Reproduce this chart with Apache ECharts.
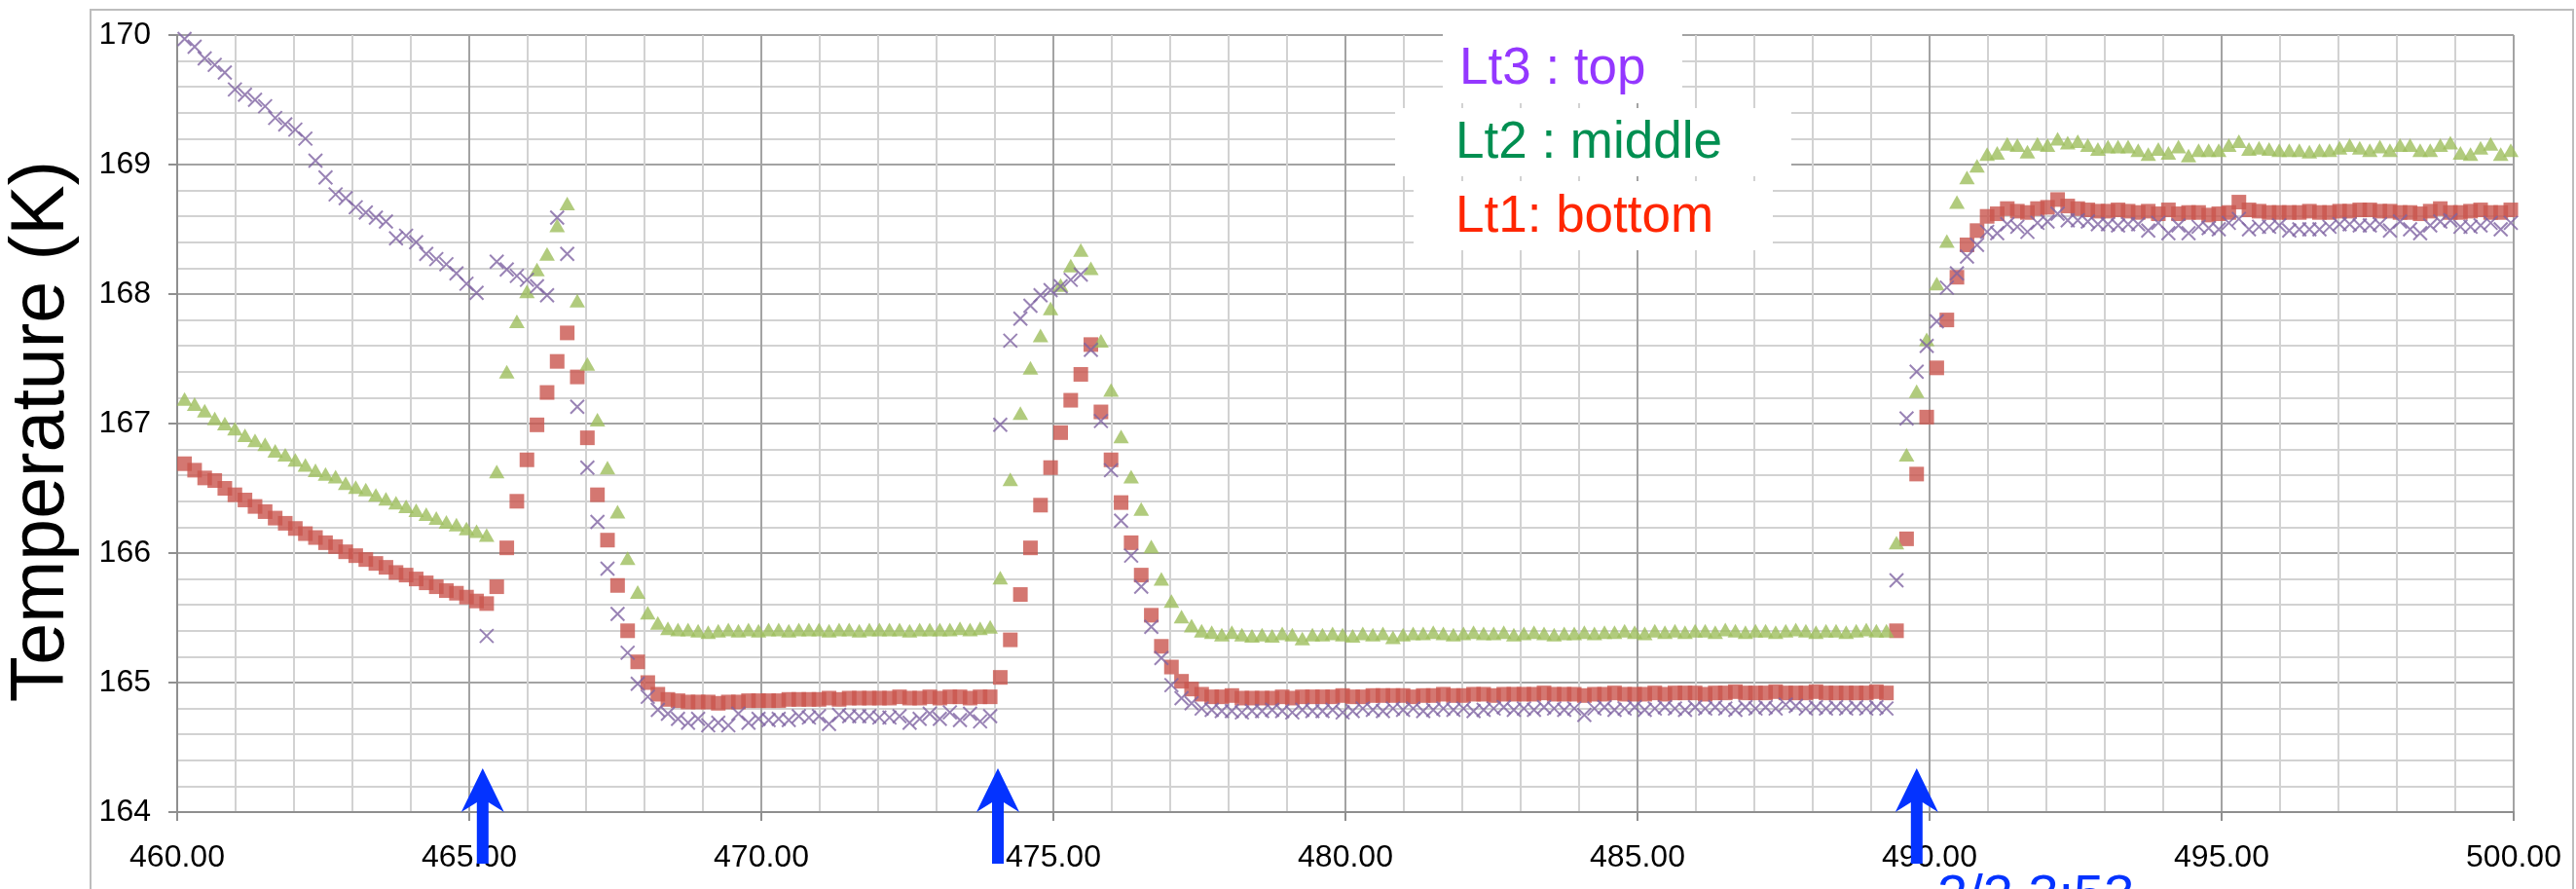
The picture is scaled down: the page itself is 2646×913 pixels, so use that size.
<!DOCTYPE html>
<html>
<head>
<meta charset="utf-8">
<script src="https://cdn.jsdelivr.net/npm/echarts@6/dist/echarts.min.js"></script>
<style>
  html, body { margin: 0; padding: 0; background: #ffffff; }
  #chart { width: 2646px; height: 913px; }
</style>
</head>
<body>
<div id="chart"></div>
<script>
// Sampling grid of the logger: first sample time (min) and step between samples (min)
const T0 = 460.126;
const DT = 0.1724;

// Lt3 : top (purple crosses)
const lt3Top = [
  169.97, 169.91, 169.82, 169.77, 169.71, 169.58, 169.54, 169.50, 169.45, 169.36,
  169.31, 169.27, 169.20, 169.03, 168.90, 168.77, 168.74, 168.67, 168.63, 168.59,
  168.56, 168.43, 168.45, 168.40, 168.31, 168.27, 168.23, 168.16, 168.08, 168.01,
  165.36, 168.25, 168.19, 168.14, 168.11, 168.06, 167.99, 168.59, 168.31, 167.13,
  166.66, 166.24, 165.88, 165.53, 165.23, 164.99, 164.89, 164.79, 164.76,
  164.72, 164.69, 164.72, 164.67, 164.69, 164.67, 164.76, 164.69, 164.72, 164.71,
  164.72, 164.71, 164.74, 164.73, 164.74, 164.68, 164.75, 164.74, 164.74, 164.74,
  164.73, 164.73, 164.74, 164.69, 164.72, 164.76, 164.72, 164.77, 164.71, 164.76,
  164.70, 164.74,
  166.99, 167.64, 167.81, 167.91, 167.99, 168.03, 168.06, 168.11, 168.15, 167.57,
  167.02, 166.64, 166.25, 165.98, 165.74, 165.43, 165.19, 164.98, 164.88, 164.84,
  164.80, 164.79, 164.78, 164.78, 164.77, 164.78,
  164.78, 164.79, 164.78, 164.77, 164.79, 164.78, 164.78, 164.79, 164.77, 164.78,
  164.80, 164.79, 164.78, 164.80,
  164.79, 164.80, 164.78, 164.79, 164.80, 164.79, 164.80, 164.78, 164.79, 164.80,
  164.81, 164.79, 164.80, 164.79, 164.81, 164.80, 164.79, 164.80, 164.75, 164.80,
  164.81, 164.79, 164.80, 164.81, 164.79, 164.80, 164.81, 164.80, 164.79, 164.81,
  164.80, 164.81, 164.80, 164.79, 164.81, 164.80, 164.81, 164.80, 164.83, 164.82,
  164.80, 164.81, 164.80, 164.81, 164.80, 164.81, 164.80, 164.81, 164.80,
  165.79, 167.04, 167.40, 167.60, 167.79, 168.05, 168.16, 168.29, 168.38, 168.48,
  168.47, 168.54, 168.52, 168.48, 168.55, 168.56, 168.62, 168.57, 168.57, 168.56,
  168.54, 168.54, 168.53, 168.54, 168.54, 168.49, 168.55, 168.47, 168.53, 168.47,
  168.52, 168.51, 168.50, 168.55, 168.58, 168.50, 168.52, 168.52, 168.53, 168.49,
  168.50, 168.50, 168.50, 168.52, 168.54, 168.54, 168.53, 168.53, 168.54, 168.49,
  168.56, 168.50, 168.47, 168.53, 168.56, 168.57, 168.52, 168.52, 168.53, 168.55,
  168.50, 168.55
];

// Lt2 : middle (green triangles)
const lt2Middle = [
  167.19, 167.15, 167.10, 167.04, 167.00, 166.96, 166.91, 166.87, 166.84, 166.79,
  166.76, 166.72, 166.68, 166.64, 166.61, 166.59, 166.54, 166.51, 166.49, 166.45,
  166.42, 166.39, 166.36, 166.33, 166.30, 166.27, 166.24, 166.22, 166.19, 166.17,
  166.14,
  166.63, 167.40, 167.79, 168.02, 168.19, 168.31, 168.53, 168.70, 167.95, 167.46,
  167.03, 166.66, 166.32, 165.96, 165.70, 165.54, 165.46, 165.42,
  165.41, 165.41, 165.40, 165.39, 165.40, 165.41, 165.40, 165.41, 165.40, 165.41,
  165.41, 165.40, 165.41, 165.41, 165.41, 165.40, 165.41, 165.41, 165.40, 165.41,
  165.41, 165.41, 165.41, 165.40, 165.41, 165.41, 165.41, 165.41, 165.42, 165.41,
  165.42, 165.43,
  165.81, 166.57, 167.08, 167.43, 167.68, 167.89, 168.07, 168.22, 168.34, 168.20,
  167.64, 167.26, 166.90, 166.59, 166.34, 166.05, 165.80, 165.63, 165.51, 165.44,
  165.40, 165.39, 165.37, 165.39, 165.37, 165.36,
  165.37, 165.36, 165.38, 165.37, 165.34, 165.37, 165.37, 165.38, 165.37, 165.36,
  165.38, 165.37, 165.38, 165.35,
  165.37, 165.38, 165.38, 165.39, 165.38, 165.37, 165.38, 165.39, 165.38, 165.38,
  165.39, 165.37, 165.38, 165.39, 165.38, 165.37, 165.38, 165.38, 165.39, 165.38,
  165.39, 165.39, 165.40, 165.39, 165.38,
  165.40, 165.39, 165.40, 165.39, 165.40, 165.40, 165.39, 165.41, 165.40, 165.39,
  165.40, 165.40, 165.39, 165.40, 165.41, 165.40, 165.39, 165.40, 165.40, 165.39,
  165.40, 165.41, 165.40, 165.40,
  166.08, 166.76, 167.25, 167.65, 168.08, 168.41, 168.71, 168.90, 168.99, 169.08,
  169.09, 169.16, 169.15, 169.10, 169.16, 169.15, 169.20, 169.17, 169.18, 169.15,
  169.12, 169.14, 169.14, 169.14, 169.11, 169.08, 169.12, 169.09, 169.14, 169.07,
  169.11, 169.11, 169.11, 169.15, 169.18, 169.12, 169.13, 169.12, 169.11, 169.11,
  169.11, 169.10, 169.11, 169.11, 169.13, 169.15, 169.13, 169.11, 169.14, 169.11,
  169.15, 169.15, 169.11, 169.11, 169.15, 169.17, 169.09, 169.08, 169.13, 169.16,
  169.08, 169.11
];

// Lt1 : bottom (red squares)
const lt1Bottom = [
  166.69, 166.64, 166.58, 166.56, 166.50, 166.45, 166.41, 166.36, 166.32, 166.27,
  166.23, 166.19, 166.15, 166.12, 166.08, 166.05, 166.01, 165.98, 165.95, 165.92,
  165.89, 165.85, 165.83, 165.80, 165.77, 165.74, 165.71, 165.69, 165.66, 165.63,
  165.61,
  165.74, 166.04, 166.40, 166.72, 166.99, 167.24, 167.48, 167.70, 167.36, 166.89,
  166.45, 166.10, 165.75, 165.40, 165.16, 165.00, 164.91, 164.87,
  164.86, 164.85, 164.85, 164.85, 164.84, 164.85, 164.85, 164.86, 164.86, 164.86,
  164.86, 164.87, 164.87, 164.87, 164.87, 164.88, 164.87, 164.88, 164.88, 164.88,
  164.88, 164.88, 164.89, 164.88, 164.88, 164.89, 164.88, 164.89, 164.89, 164.88,
  164.89, 164.89,
  165.04, 165.33, 165.68, 166.04, 166.37, 166.66, 166.93, 167.18, 167.38, 167.61,
  167.09, 166.72, 166.39, 166.08, 165.83, 165.52, 165.28, 165.12, 165.01, 164.95,
  164.91, 164.89, 164.89, 164.90, 164.88, 164.88,
  164.88, 164.88, 164.89, 164.88, 164.89, 164.89, 164.89, 164.89, 164.90, 164.89,
  164.89, 164.90, 164.90, 164.90,
  164.90, 164.89, 164.90, 164.90, 164.91, 164.90, 164.90, 164.91, 164.91, 164.90,
  164.91, 164.91, 164.91, 164.91, 164.92, 164.91, 164.91, 164.91, 164.90, 164.91,
  164.91, 164.92, 164.91, 164.91, 164.91,
  164.92, 164.91, 164.92, 164.92, 164.92, 164.91, 164.92, 164.92, 164.93, 164.92,
  164.92, 164.92, 164.93, 164.92, 164.92, 164.92, 164.93, 164.92, 164.92, 164.92,
  164.92, 164.92, 164.93, 164.92,
  165.40, 166.11, 166.61, 167.05, 167.43, 167.80, 168.13, 168.38, 168.49, 168.60,
  168.62, 168.66, 168.64, 168.63, 168.66, 168.67, 168.73, 168.68,
  168.66, 168.65, 168.64, 168.64, 168.65, 168.64, 168.63, 168.64, 168.62, 168.65,
  168.62, 168.63, 168.63, 168.61, 168.62,
  168.63, 168.71,
  168.65, 168.64, 168.63, 168.63, 168.63, 168.63, 168.64, 168.63, 168.63, 168.64,
  168.64, 168.65, 168.65, 168.64, 168.64, 168.63, 168.63, 168.62, 168.64, 168.66,
  168.63, 168.63, 168.64, 168.65, 168.63, 168.63, 168.65
];

// Axis ranges
const xRange = [460, 500];
const xStep = 5;
const yRange = [164, 170];
const yStep = 1;

// Times (min) marked with arrows under the axis
const arrowTimes = [465.23, 474.05, 489.78];

// Series labels placed in the upper middle of the plot
const seriesLabels = [
  { text: 'Lt3 : top',    color: '#9437FF' },
  { text: 'Lt2 : middle', color: '#008F51' },
  { text: 'Lt1: bottom',  color: '#FF2600' }
];

const yTitle = 'Temperature (K)';
const footText = '2/2 3:53';

const toPoints = vals => vals.map((v, j) => [T0 + j * DT, v]);

const tickFont = "'Liberation Sans Narrow', 'Liberation Sans', Arial, sans-serif";
const textFont = "'Liberation Sans', Arial, Helvetica, sans-serif";
const majorGrid = '#a3a3a3';
const minorGrid = '#d2d2d2';

const chart = echarts.init(document.getElementById('chart'), null, { renderer: 'canvas' });

const option = {
  animation: false,
  backgroundColor: '#ffffff',
  grid: { left: 182, top: 36, right: 64, bottom: 79, containLabel: false },
  xAxis: {
    type: 'value',
    min: xRange[0], max: xRange[1], interval: xStep,
    axisLine: { show: true, onZero: false, lineStyle: { color: '#8f8f8f', width: 2 } },
    axisTick: { show: true, length: 9, lineStyle: { color: '#8f8f8f', width: 2 } },
    minorTick: { show: false, splitNumber: 5 },
    axisLabel: {
      formatter: v => v.toFixed(2), color: '#000', fontSize: 32,
      fontFamily: tickFont, margin: 31
    },
    splitLine: { show: true, lineStyle: { color: majorGrid, width: 2 } },
    minorSplitLine: { show: true, lineStyle: { color: minorGrid, width: 2 } }
  },
  yAxis: {
    type: 'value',
    min: yRange[0], max: yRange[1], interval: yStep,
    axisLine: { show: true, onZero: false, lineStyle: { color: '#8f8f8f', width: 2 } },
    axisTick: { show: true, length: 9, lineStyle: { color: '#8f8f8f', width: 2 } },
    minorTick: { show: false, splitNumber: 5 },
    axisLabel: { color: '#000', fontSize: 32, fontFamily: tickFont, margin: 27 },
    splitLine: { show: true, lineStyle: { color: majorGrid, width: 2 } },
    minorSplitLine: { show: true, lineStyle: { color: minorGrid, width: 2 } }
  },
  series: [
    {
      name: 'Lt1: bottom', type: 'scatter', data: toPoints(lt1Bottom),
      symbol: 'rect', symbolSize: 15,
      itemStyle: { color: '#C9554D' }, z: 2
    },
    {
      name: 'Lt2 : middle', type: 'scatter', data: toPoints(lt2Middle),
      symbol: 'triangle', symbolSize: [16, 14],
      itemStyle: { color: '#9EBE5D' }, z: 3
    },
    {
      name: 'Lt3 : top', type: 'scatter', data: toPoints(lt3Top),
      symbol: 'path://M0,0L10,10M10,0L0,10', symbolSize: 14,
      itemStyle: { color: 'none', borderColor: '#8064A2', borderWidth: 2 }, z: 4
    }
  ]
};

chart.setOption(option);

// Annotations: frame, label boxes, axis title, arrows
function drawAnnotations() {
  const elements = [];

  // light frame around the plotted chart
  elements.push({
    type: 'rect', silent: true, z: 0,
    shape: { x: 93, y: 10, width: 2550, height: 1000 },
    style: { fill: 'none', stroke: '#bdbdbd', lineWidth: 2 }
  });

  // white boxes behind the series labels
  const boxes = [
    { x: 1482, y: 18, w: 246, h: 88 },
    { x: 1433, y: 111, w: 407, h: 70 },
    { x: 1452, y: 186, w: 369, h: 71 }
  ];
  // left edge and cap-height centre of each label
  const textPos = [
    { x: 1499, y: 71 },
    { x: 1495, y: 147 },
    { x: 1495, y: 223 }
  ];
  boxes.forEach((b, i) => {
    elements.push({
      type: 'rect', silent: true, z: 50,
      shape: { x: b.x, y: b.y, width: b.w, height: b.h },
      style: { fill: '#ffffff' }
    });
    elements.push({
      type: 'text', silent: true, z: 51,
      x: textPos[i].x, y: textPos[i].y,
      style: {
        text: seriesLabels[i].text, fill: seriesLabels[i].color,
        fontSize: 53, fontFamily: textFont,
        align: 'left', verticalAlign: 'middle'
      }
    });
  });

  // vertical axis title
  elements.push({
    type: 'text', silent: true, z: 51,
    x: 44, y: 443, rotation: Math.PI / 2,
    style: {
      text: yTitle, fill: '#000000', fontSize: 77, fontFamily: textFont,
      align: 'center', verticalAlign: 'middle'
    }
  });

  // blue caption running off the bottom edge
  elements.push({
    type: 'text', silent: true, z: 51,
    x: 1990, y: 894,
    style: {
      text: footText, fill: '#0433FF', fontSize: 56, fontFamily: textFont,
      align: 'left', verticalAlign: 'top'
    }
  });

  // upward arrows under the time axis
  arrowTimes.forEach(t => {
    const cx = chart.convertToPixel({ xAxisIndex: 0 }, t);
    const tip = 789, headBase = 834, bottom = 887, hw = 22, sw = 6;
    elements.push({
      type: 'polygon', silent: true, z: 60,
      shape: {
        points: [
          [cx, tip], [cx + hw, headBase], [cx + sw, headBase - 10],
          [cx + sw, bottom], [cx - sw, bottom], [cx - sw, headBase - 10],
          [cx - hw, headBase]
        ]
      },
      style: { fill: '#0433FF' }
    });
  });

  chart.setOption({ graphic: { elements } });
}

drawAnnotations();
</script>
</body>
</html>
